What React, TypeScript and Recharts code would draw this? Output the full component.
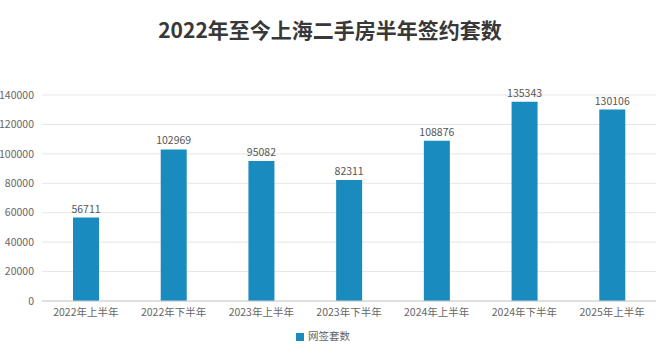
import { BarChart, Bar, XAxis, YAxis, CartesianGrid, Legend, LabelList } from "recharts";

const periods = [
  "2022年上半年",
  "2022年下半年",
  "2023年上半年",
  "2023年下半年",
  "2024年上半年",
  "2024年下半年",
  "2025年上半年",
];
const signed = [56711, 102969, 95082, 82311, 108876, 135343, 130106];
const yTicks = [0, 20000, 40000, 60000, 80000, 100000, 120000, 140000];

const data = periods.map((p, i) => ({ name: p, value: signed[i] }));

const font = '"Noto Sans CJK SC", "Noto Sans", sans-serif';

export default function App() {
  return (
    <div style={{ position: "absolute", left: 0, top: 0, width: 660, height: 351, background: "#fff", fontFamily: font }}>
      <div
        style={{
          position: "absolute",
          top: 14,
          left: 0,
          width: 660,
          textAlign: "center",
          fontSize: 21,
          fontWeight: 700,
          color: "#383838",
        }}
      >
        2022年至今上海二手房半年签约套数
      </div>
      <BarChart width={660} height={351} data={data} margin={{ top: 95, right: 4, left: 0, bottom: 8 }}>
        <CartesianGrid vertical={false} stroke="#e6e6e6" />
        <XAxis
          dataKey="name"
          height={27}
          tickLine={false}
          axisLine={{ stroke: "#ccc" }}
          tick={{ fontSize: 10.5, fill: "#666", fontFamily: font }}
          interval={0}
        />
        <YAxis
          width={42}
          domain={[0, 140000]}
          ticks={yTicks}
          tickLine={false}
          axisLine={false}
          tick={{ fontSize: 10.5, fill: "#666", fontFamily: font }}
        />
        <Legend
          verticalAlign="bottom"
          iconType="square"
          iconSize={8}
          wrapperStyle={{ fontSize: 10.5, color: "#666", fontFamily: font }}
          formatter={(v) => <span style={{ color: "#666" }}>{v}</span>}
        />
        <Bar dataKey="value" name="网签套数" fill="#1a8bbf" barSize={26} isAnimationActive={false}>
          <LabelList dataKey="value" position="top" fill="#555" fontSize={10.5} fontFamily={font} />
        </Bar>
      </BarChart>
    </div>
  );
}
